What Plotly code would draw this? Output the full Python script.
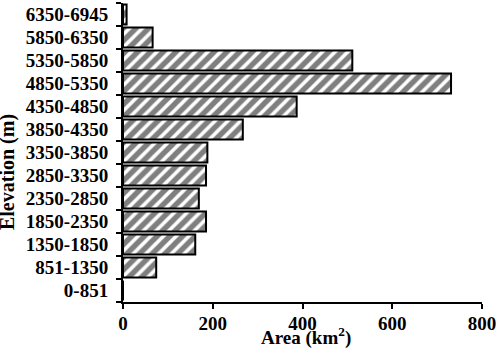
import plotly.graph_objects as go

categories = ["0-851", "851-1350", "1350-1850", "1850-2350", "2350-2850", "2850-3350",
              "3350-3850", "3850-4350", "4350-4850", "4850-5350", "5350-5850",
              "5850-6350", "6350-6945"]
area_km2 = [0, 74, 161, 185, 169, 185, 188, 267, 387, 731, 511, 66, 8]
x_ticks = [0, 200, 400, 600, 800]

FONT = "Liberation Serif, Times New Roman, serif"

fig = go.Figure(go.Bar(
    x=area_km2, y=categories, orientation="h",
    marker=dict(color="white",
                line=dict(color="black", width=2),
                pattern=dict(shape="/", fgcolor="black", bgcolor="white",
                             size=9, solidity=0.6)),
    width=0.86,
))

fig.update_layout(
    width=498, height=348,
    margin=dict(l=123, r=16, t=3, b=46),
    paper_bgcolor="white", plot_bgcolor="white",
    showlegend=False,
    font=dict(family=FONT, size=19, color="black"),
    xaxis=dict(range=[0, 800], tickvals=x_ticks, showgrid=False, zeroline=False,
               automargin=False,
               showline=True, linecolor="black", linewidth=2,
               ticks="outside", ticklen=5, tickwidth=2, tickcolor="black",
               tickfont=dict(family=FONT, size=19, color="black", weight="bold"),
               ticklabelstandoff=-2),
    yaxis=dict(categoryorder="array", categoryarray=categories,
               range=[-0.5, 12.5], showgrid=False, zeroline=False,
               automargin=False,
               showline=True, linecolor="black", linewidth=2,
               ticks="outside", ticklen=5, tickwidth=2, tickcolor="black",
               tickson="boundaries",
               tickfont=dict(family=FONT, size=19, color="black", weight="bold"),
               ticklabelstandoff=9),
    annotations=[
        dict(text="Elevation (m)", textangle=-90, xref="paper", yref="paper",
             x=-0.320, y=0.435, xanchor="center", yanchor="middle", showarrow=False,
             font=dict(family=FONT, size=20, color="black", weight="bold")),
        dict(text="Area (km<sup>2</sup>)", xref="paper", yref="paper",
             x=0.51, y=-0.117, xanchor="center", yanchor="middle", showarrow=False,
             font=dict(family=FONT, size=19, color="black", weight="bold")),
    ],
)

fig.write_html("out.html", config={"displayModeBar": False},
               post_script="document.body.style.margin='0';document.body.style.padding='0';")
